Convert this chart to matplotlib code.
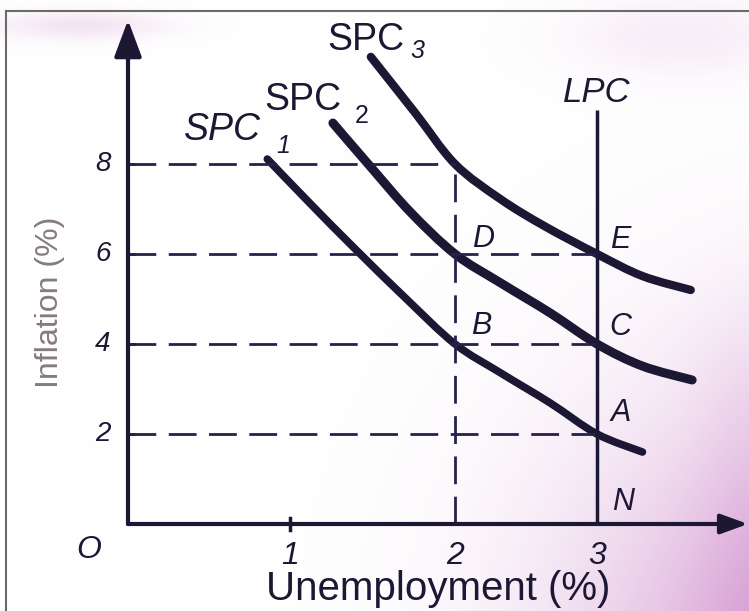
import numpy as np
import matplotlib
matplotlib.use("Agg")
import matplotlib.pyplot as plt
from matplotlib.transforms import Affine2D
from matplotlib.lines import Line2D
from matplotlib.path import Path
from matplotlib.patches import PathPatch

# ---------------------------------------------------------------------------
# Short-run Phillips curves (unemployment %, inflation %)
spc1_u = [0.86, 1.12, 1.39, 1.70, 2.00, 2.32, 2.67, 3.00, 3.32]
spc1_pi = [8.11, 7.13, 6.13, 5.02, 4.00, 3.36, 2.69, 2.00, 1.60]

spc2_u = [1.26, 1.49, 1.73, 2.00, 2.32, 2.67, 3.00, 3.32, 3.67]
spc2_pi = [8.91, 7.93, 6.93, 6.00, 5.36, 4.69, 4.00, 3.51, 3.20]

spc3_u = [1.49, 1.76, 2.00, 2.32, 2.63, 3.00, 3.32, 3.66]
spc3_pi = [10.38, 9.13, 8.00, 7.22, 6.62, 6.00, 5.51, 5.20]

# Long-run Phillips curve (natural rate of unemployment)
lpc_u = 3
lpc_top = 9.2

# Labelled equilibrium points
point_names = ["A", "B", "C", "D", "E", "N"]
point_u = [3, 2, 3, 2, 3, 3]
point_pi = [2, 4, 4, 6, 6, 0]

# Axis tick labels
x_ticks = [1, 2, 3]
y_ticks = [2, 4, 6, 8]

# Dashed guide lines: inflation level -> unemployment where they stop
guide_levels = [2, 4, 6, 8]
guide_ends = [3, 3, 3, 2]

INK = "#1c1733"
GUIDE = "#27204a"
W, H = 749, 611
Y_PX = 45.0  # pixels per inflation point

# The hand-drawn axis has uneven spacing between its unemployment ticks
U_KNOTS = np.array([-10.0, 0.0, 1.0, 2.0, 3.0, 10.0])
P_KNOTS = np.array([128 - 1620.0, 128.0, 290.0, 455.0, 597.0, 597 + 7 * 142.0])


def _fwd(u):
    return np.interp(np.asarray(u, dtype=float), U_KNOTS, P_KNOTS)


def _inv(p):
    return np.interp(np.asarray(p, dtype=float), P_KNOTS, U_KNOTS)


def smooth_path(us, ps):
    """Catmull-Rom curve through the points, expressed as cubic Bezier segments."""
    pts = np.column_stack([_fwd(us), np.asarray(ps, float) * Y_PX])
    ext = np.vstack([pts[0], pts, pts[-1]])
    verts = [pts[0]]
    codes = [Path.MOVETO]
    for i in range(1, len(ext) - 2):
        p0, p1, p2, p3 = ext[i - 1], ext[i], ext[i + 1], ext[i + 2]
        c1 = p1 + (p2 - p0) / 6
        c2 = p2 - (p3 - p1) / 6
        verts += [c1, c2, p2]
        codes += [Path.CURVE4] * 3
    verts = np.array(verts)
    verts = np.column_stack([_inv(verts[:, 0]), verts[:, 1] / Y_PX])
    return Path(verts, codes)


plt.rcParams["font.family"] = ["Liberation Sans", "DejaVu Sans"]

fig = plt.figure(figsize=(W / 100, H / 100), dpi=100)

# paper background with a pink cast towards the lower right
bg = fig.add_axes([0, 0, 1, 1], zorder=0)
yy, xx = np.mgrid[0:H, 0:W].astype(float)
w = 0.85 * np.exp(-(((xx - 800) / 170) ** 2 + ((yy - 680) / 200) ** 2) / 2)
w += 0.18 * np.exp(-(((xx - 680) / 80) ** 2 + ((yy - 35) / 30) ** 2) / 2)
w += 0.28 * np.exp(-(((xx - 80) / 60) ** 2 + ((yy - 25) / 10) ** 2) / 2)
w += 0.18 * np.exp(-(((xx - 760) / 45) ** 2) / 2) / (1 + np.exp(-(yy - 320) / 40))
w = np.clip(w, 0, 1)
pink = np.array([0.84, 0.62, 0.83])
img = 1 - w[..., None] * (1 - pink)
bg.imshow(img, extent=(0, W, H, 0), aspect="auto", interpolation="bilinear")
bg.set_xlim(0, W)
bg.set_ylim(H, 0)
bg.axis("off")

ax = fig.add_axes([0, 0, 1, 1], zorder=1)
ax.patch.set_alpha(0)
ax.set_xscale("function", functions=(_fwd, _inv))
ax.set_xlim(float(_inv(0)), float(_inv(W)))
ax.set_ylim(-(H - 524) / Y_PX, 524 / Y_PX)
ax.axis("off")

# pixel-space transform for free-standing text
px = Affine2D().scale(1 / W, -1 / H).translate(0, 1) + fig.transFigure

# frame of the page
fig.add_artist(Line2D([6 / W, 6 / W], [0, 1 - 11 / H], color="#6b6b6b", lw=1.5))
fig.add_artist(Line2D([6 / W, 1], [1 - 11 / H, 1 - 11 / H], color="#6b6b6b", lw=1.5))

# axes with arrow heads
ax.annotate("", xy=(0, 11.2), xytext=(0, 0),
            arrowprops=dict(arrowstyle="-|>,head_length=0.75,head_width=0.28",
                            lw=3, color=INK, shrinkA=0, shrinkB=0, mutation_scale=30))
ax.annotate("", xy=(float(_inv(748)), 0), xytext=(0, 0),
            arrowprops=dict(arrowstyle="-|>,head_length=0.55,head_width=0.2",
                            lw=3, color=INK, shrinkA=0, shrinkB=0, mutation_scale=30))
ax.plot([1, 1], [-0.13, 0.13], color=INK, lw=2.5)
for v in y_ticks:
    ax.plot([0, 0.04], [v, v], color=INK, lw=2)

# dashed guides
for lvl, end in zip(guide_levels, guide_ends):
    ax.plot([0, end], [lvl, lvl], color=GUIDE, lw=2, dashes=(10, 4.5))
ax.plot([2, 2], [0, 8], color=GUIDE, lw=2, dashes=(10, 4.5))

# long-run Phillips curve
ax.plot([lpc_u, lpc_u], [0, lpc_top], color=INK, lw=2.5, solid_capstyle="butt")

# short-run Phillips curves
for us, ps, lw in [(spc1_u, spc1_pi, 5.5), (spc2_u, spc2_pi, 6.5), (spc3_u, spc3_pi, 6.0)]:
    ax.add_patch(PathPatch(smooth_path(us, ps), fill=False, edgecolor=INK, lw=lw,
                           capstyle="round", joinstyle="round"))

# curve labels
ax.text(327, 50, "SPC", transform=px, fontsize=27, color=INK, ha="left", va="baseline")
ax.text(410, 58, "3", transform=px, fontsize=18, style="italic", color=INK, ha="left", va="baseline")
ax.text(264, 110, "SPC", transform=px, fontsize=27, color=INK, ha="left", va="baseline")
ax.text(355, 123, "2", transform=px, fontsize=18, color=INK, ha="left", va="baseline")
ax.text(184, 140, "SPC", transform=px, fontsize=27, style="italic", color=INK, ha="left", va="baseline")
ax.text(276, 153, "1", transform=px, fontsize=18, style="italic", color=INK, ha="left", va="baseline")
ax.annotate("LPC", xy=(lpc_u, lpc_top), xytext=(0, 5.5), textcoords="offset points",
            fontsize=25, style="italic", color=INK, ha="center", va="baseline")

# point letters
offsets = {"A": (17, 15), "B": (19, 13), "C": (17, 12), "D": (20, 11), "E": (17, 10), "N": (19, 16)}
for name, u, p in zip(point_names, point_u, point_pi):
    ax.annotate(name, xy=(u, p), xytext=offsets[name], textcoords="offset points",
                fontsize=22, style="italic", color=INK, ha="center", va="center")

# tick labels
for v in x_ticks:
    ax.annotate(str(v), xy=(v, 0), xytext=(0, -23), textcoords="offset points",
                fontsize=23, style="italic", color=INK, ha="center", va="center")
for v in y_ticks:
    ax.annotate(str(v), xy=(0, v), xytext=(-18, 0), textcoords="offset points",
                fontsize=20, style="italic", color=INK, ha="center", va="center")
ax.annotate("O", xy=(0, 0), xytext=(-28, -19), textcoords="offset points",
            fontsize=23, style="italic", color=INK, ha="center", va="center")

# axis titles
ax.text(438, 600, "Unemployment (%)", transform=px, fontsize=29, color=INK,
        ha="center", va="baseline")
ax.text(50, 302, "Inflation (%)", transform=px, fontsize=23, color="#857a82",
        rotation=90, ha="center", va="center")

fig.savefig("out.png", dpi=100)
